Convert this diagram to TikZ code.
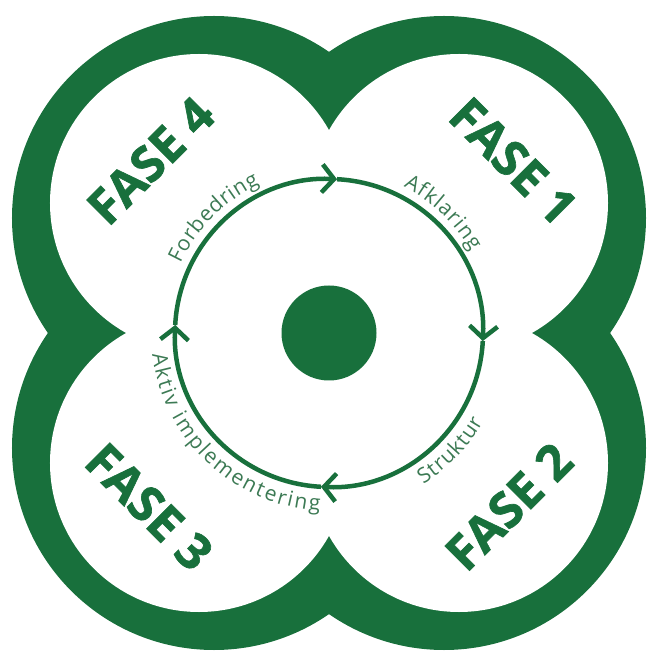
\documentclass[tikz,border=0pt]{standalone}
\usepackage{fontspec}
\setmainfont{Open Sans}
\newfontfamily\fasefont{Open Sans}[BoldFeatures={FakeBold=1.3}]
\usetikzlibrary{arrows.meta, decorations.text}
\definecolor{leaf}{RGB}{24,112,60}
\definecolor{lbl}{RGB}{60,122,84}
\newcommand{\lblfont}{\fontsize{21}{24}\selectfont\color{lbl}}

\begin{document}
\begin{tikzpicture}[x=1pt, y=1pt, >={Straight Barb[length=12pt, width=28pt]},
  fase/.style={font=\fasefont\fontsize{49}{54}\selectfont\bfseries, text=leaf, inner sep=0pt},
  ring/.style={draw=leaf, line width=4.5pt},
  along/.style={decorate, decoration={text along path, text align={fit to path},
                text={|\lblfont|#1}}}]
  \useasboundingbox (-329,-322) rectangle (320,333);
  \fill[leaf] (115,115) circle[radius=202] (-115,115) circle[radius=202]
              (115,-115) circle[radius=202] (-115,-115) circle[radius=202];
  \fill[white] (130,130) circle[radius=149] (-130,130) circle[radius=149]
               (130,-130) circle[radius=149] (-130,-130) circle[radius=149]
               (0,0) circle[radius=185];
  \node[fase, rotate=-45] (f1) at (43:252) {FASE 1};
  \node[fase, rotate=45] (f2) at (-44:250) {FASE 2};
  \node[fase, rotate=-45] (f3) at (-136:250) {FASE 3};
  \node[fase, rotate=45] (f4) at (136:248) {FASE 4};
  \node[circle, fill=leaf, minimum size=95pt, inner sep=0pt] (hub) at (0,0) {};
  \coordinate (n) at (87:154);
  \coordinate (e) at (-3:154);
  \coordinate (s) at (-93:154);
  \coordinate (w) at (177:154);
  \draw[ring, ->] (n) arc[start angle=87, end angle=-3, radius=154];
  \draw[ring, ->] (e) arc[start angle=-3, end angle=-93, radius=154];
  \draw[ring, ->] (s) arc[start angle=-93, end angle=-183, radius=154];
  \draw[ring, ->] (w) arc[start angle=177, end angle=87, radius=154];
  \path[along=Afklaring] (63:164) arc[start angle=63, end angle=30, radius=164];
  \path[along=Forbedring] (155:164) arc[start angle=155, end angle=115, radius=164];
  \path[along=Struktur] (-58:178) arc[start angle=-58, end angle=-30, radius=178];
  \path[along=Aktiv implementering] (187:178) arc[start angle=187, end angle=267, radius=178];
\end{tikzpicture}
\end{document}
